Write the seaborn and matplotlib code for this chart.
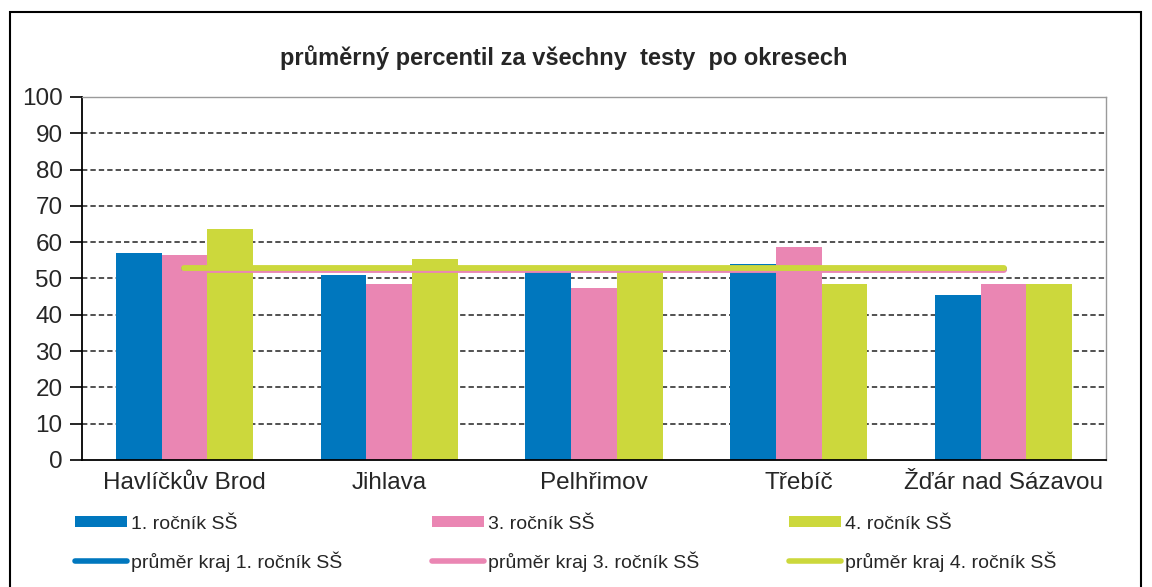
import matplotlib
matplotlib.use("Agg")
import matplotlib.pyplot as plt
from matplotlib.patches import Rectangle, Patch
from matplotlib.lines import Line2D
import numpy as np
import pandas as pd
import seaborn as sns

# Districts and series
okresy = ["Havlíčkův Brod", "Jihlava", "Pelhřimov", "Třebíč", "Žďár nad Sázavou"]
serie = ["1. ročník SŠ", "3. ročník SŠ", "4. ročník SŠ"]
rocnik_1 = [57.0, 51.0, 52.0, 54.0, 45.4]
rocnik_3 = [56.5, 48.5, 47.4, 58.7, 48.5]
rocnik_4 = [63.6, 55.4, 52.0, 48.5, 48.5]
# Regional averages per grade
prumer_kraj = [52.5, 52.3, 52.8]
prumer_popisky = ["průměr kraj 1. ročník SŠ", "průměr kraj 3. ročník SŠ", "průměr kraj 4. ročník SŠ"]
y_ticks = list(range(0, 101, 10))
titulek = "průměrný percentil za všechny  testy  po okresech"

barvy = ["#0077BE", "#EA86B3", "#CCD83C"]

df = pd.DataFrame({
    "okres": okresy * 3,
    "serie": [s for s in serie for _ in okresy],
    "hodnota": rocnik_1 + rocnik_3 + rocnik_4,
})

sns.set_style("white")
plt.rcParams["font.family"] = ["Liberation Sans", "DejaVu Sans"]

fig = plt.figure(figsize=(11.52, 5.87), dpi=100)
ax = fig.add_axes([0.0712, 0.2164, 0.8888, 0.6184])

sns.barplot(data=df, x="okres", y="hodnota", hue="serie", order=okresy,
            hue_order=serie, palette=barvy, saturation=1, width=0.67,
            gap=0, ax=ax, legend=False, errorbar=None, linewidth=0)

# Regional average lines from the first to the last district
xs = np.arange(len(okresy))
for hodnota, barva in zip(prumer_kraj, barvy):
    ax.plot([xs[0], xs[-1]], [hodnota, hodnota], color=barva, lw=4.2,
            solid_capstyle="round", zorder=5)

ax.set_ylim(0, 100)
ax.set_xlim(-0.5, len(okresy) - 0.5)
ax.set_yticks(y_ticks)
ax.set_yticklabels([str(t) for t in y_ticks], fontsize=17.5)
ax.set_xlabel("")
ax.set_ylabel("")
ax.tick_params(axis="x", which="major", length=0, labelsize=17.5, pad=9)
ax.set_xticks(np.arange(-0.5, len(okresy)), minor=True)
ax.tick_params(axis="x", which="minor", length=7, width=1.2, color="black", direction="out")
ax.tick_params(axis="y", length=9, width=1.2, color="black", direction="out", pad=5, left=True)

for t in y_ticks[1:-1]:
    ax.axhline(t, color="#222222", lw=1.1, ls=(0, (3.5, 2)), zorder=0.5)

for side in ["left", "bottom"]:
    ax.spines[side].set_color("black")
    ax.spines[side].set_linewidth(1.3)
for side in ["top", "right"]:
    ax.spines[side].set_color("#9a9a9a")
    ax.spines[side].set_linewidth(1.0)

fig.text(0.489, 0.902, titulek, ha="center", va="center", fontsize=17, fontweight="bold")

handles = []
for s, p_lab, barva in zip(serie, prumer_popisky, barvy):
    handles.append(Patch(facecolor=barva, edgecolor="none", label=s))
    handles.append(Line2D([], [], color=barva, lw=4, solid_capstyle="round", label=p_lab))
fig.legend(handles=handles, ncol=3, loc="upper left", bbox_to_anchor=(0.0565, 0.138),
           frameon=False, fontsize=14, handlelength=2.7, handleheight=0.5,
           columnspacing=4.6, labelspacing=0.95, handletextpad=0.2, borderpad=0)

# Outer chart frame
fig.patches.append(Rectangle((10 / 1152, -0.05), 1131 / 1152, 1 - 12 / 587 + 0.05,
                             transform=fig.transFigure, fill=False,
                             edgecolor="black", lw=1.5))

fig.savefig("out.png", dpi=100, facecolor="white")
